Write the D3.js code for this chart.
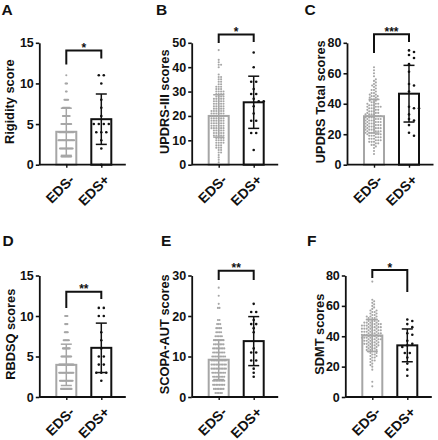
<!DOCTYPE html>
<html><head><meta charset="utf-8">
<script src="https://cdn.jsdelivr.net/npm/d3@7"></script>
<style>
body{margin:0;background:#fff}
svg{display:block}
text{font-family:Arial,"Liberation Sans",sans-serif;font-weight:bold}
</style>
</head><body>
<svg id="chart" width="438" height="440"></svg>
<script>
// ---------------- DATA ----------------
const groups = ["EDS-", "EDS+"];
const panelLetters = ["A", "B", "C", "D", "E", "F"];
const yTitles = ["Rigidity score", "UPDRS-III scores", "UPDRS Total scores", "RBDSQ scores", "SCOPA-AUT scores", "SDMT scores"];
const yMaxima = [15, 50, 80, 15, 30, 80];
const yTickSteps = [5, 10, 20, 5, 10, 20];
const sigMarks = ["*", "*", "***", "**", "**", "*"];
const meansNeg = [4.05, 20.0, 31.8, 3.97, 9.2, 40.5];
const meansPos = [5.6, 25.6, 46.6, 6.07, 13.8, 34.0];
const sdNeg = [2.9, 8.7, 11.0, 2.55, 4.9, 10.5];
const sdPos = [3.1, 10.7, 18.6, 3.05, 6.05, 10.8];

// EDS- : number of patients per integer score, starting at the given score
const rigidityNegStart = 0;
const rigidityNegCounts = [2, 14, 18, 22, 20, 14, 10, 10, 6, 2, 3, 1];
const updrs3NegStart = 1;
const updrs3NegCounts = [1,1,1,1,2,2,3,3,4,4,4,5,5,5,6,6,6,6,6,6,6,6,5,5,5,5,5,4,4,4,3,3,2,2,2,2,1,0,0,1,2,1,1,0,0,0,1];
const updrsTotalNegStart = 7;
const updrsTotalNegCounts = [1,0,1,0,1,1,2,2,3,3,3,3,3,4,4,4,4,4,4,4,4,4,4,4,4,4,4,3,3,3,3,4,3,3,2,2,3,2,3,2,2,1,2,1,1,2,1,1,1,1,0,1,0,1,0,1,0,1];
const rbdsqNegStart = 0;
const rbdsqNegCounts = [4, 15, 18, 20, 20, 14, 10, 8, 5, 4, 4];
const scopaNegStart = 0;
const scopaNegCounts = [2,5,7,8,8,8,9,10,10,10,9,8,8,7,7,5,4,4,3,2,0,0,2,1,0,1,0,1];
const sdmtNegStart = 7;
const sdmtNegCounts = [1,0,0,1,0,0,0,0,0,0,0,1,0,1,1,1,1,2,1,2,2,2,2,3,3,3,3,4,4,4,4,5,5,5,5,5,5,5,5,5,5,5,4,4,3,3,3,2,2,2,2,1,1,1,1,1,1,1,0,0,0,0,0,0,0,0,0,0,0,1];

// EDS+ : individual patient scores
const rigidityPos = [11, 11, 10, 8, 7, 6, 5, 5, 5, 5, 4, 4, 4, 3, 2, 0];
const updrs3Pos = [46, 40, 34, 34, 31, 29, 29, 27, 26, 26, 24, 21, 18, 18, 13, 13, 6];
const updrsTotalPos = [75, 74, 72, 70, 66, 61, 53, 52, 48, 38, 37, 37, 33, 30, 29, 26, 21, 19];
const rbdsqPos = [11, 11, 10, 10, 8, 7, 6, 5, 5, 4, 4, 3, 3, 3, 2];
const scopaPos = [23, 21, 21, 19, 18, 18, 17, 16, 12, 11, 11, 9, 9, 7, 6, 5];
const sdmtPos = [51, 50, 48, 46, 42, 41, 37, 35, 34, 33, 29, 29, 26, 22, 18, 14];

// ---------------- HELPERS ----------------
function expandCounts(start, counts) {
  const out = [];
  counts.forEach((c, i) => { for (let k = 0; k < c; k++) out.push(start + i); });
  return out;
}

const negSets = [
  expandCounts(rigidityNegStart, rigidityNegCounts),
  expandCounts(updrs3NegStart, updrs3NegCounts),
  expandCounts(updrsTotalNegStart, updrsTotalNegCounts),
  expandCounts(rbdsqNegStart, rbdsqNegCounts),
  expandCounts(scopaNegStart, scopaNegCounts),
  expandCounts(sdmtNegStart, sdmtNegCounts)
];
const posSets = [rigidityPos, updrs3Pos, updrsTotalPos, rbdsqPos, scopaPos, sdmtPos];

// layout (pixels / value units for annotations)
const layout = [
  {ax: 39.3,  base: 164.7, top: 42.8,  lx: 1.5,   ly: 14.5, tx: 13.5,  br: [14.05, 12.33, 13.07], negMode: "rows", negStep: 0.75},
  {ax: 191.7, base: 164.7, top: 42.8,  lx: 156,   ly: 14.5, tx: 169.3, br: [53.4, 49.9, 50.3],    negMode: "swarm"},
  {ax: 347,   base: 164.7, top: 42.8,  lx: 304.5, ly: 14.5, tx: 324.7, br: [85.6, 73.3, 80.5],    negMode: "swarm"},
  {ax: 39.3,  base: 397,   top: 275.5, lx: 2.5,   ly: 245.5, tx: 15,    br: [13.0, 11.0, 12.1],    negMode: "rows", negStep: 0.75},
  {ax: 191.7, base: 397,   top: 275.5, lx: 161,   ly: 245.5, tx: 169.3, br: [31.2, 28.9, 28.9],    negMode: "rows", negStep: 1.6},
  {ax: 345.3, base: 397,   top: 275.5, lx: 307,   ly: 245.5, tx: 323.7, br: [83.6, 78.3, 69.1],    negMode: "swarm"}
];

const GREY = "#a6a6a6";
const BLACK = "#111";

function rowLayout(values, y, step, maxW, minD) {
  const rows = d3.rollups(values, v => v.length, d => d).sort((a, b) => b[0] - a[0]);
  const placed = [];
  rows.forEach(([v, n]) => {
    const s = n > 1 ? Math.min(step, maxW / (n - 1)) : 0;
    const yy = y(v);
    const base = d3.range(n).map(i => (i - (n - 1) / 2) * s);
    let shift = 0;
    if (minD > 0) {
      const shifts = [0];
      for (let k = 1; k <= 8; k++) shifts.push(k * step / 2, -k * step / 2);
      for (const sh of shifts) {
        const ok = base.every(b => placed.every(q => Math.hypot(q.x - (b + sh), q.y - yy) >= minD));
        if (ok) { shift = sh; break; }
      }
    }
    base.forEach(b => placed.push({v: v, x: b + shift, y: yy}));
  });
  return placed;
}

function swarm(values, y, minD) {
  const pts = values.slice().sort((a, b) => a - b).map(v => ({v: v, y: y(v), x: 0}));
  const placed = [];
  pts.forEach((p, idx) => {
    const forb = [];
    placed.forEach(q => {
      const dy = Math.abs(q.y - p.y);
      if (dy < minD) {
        const dx = Math.sqrt(minD * minD - dy * dy);
        forb.push([q.x - dx, q.x + dx]);
      }
    });
    const cands = [0];
    forb.forEach(f => cands.push(f[0], f[1]));
    const sgn = idx % 2 === 0 ? 1 : -1;
    cands.sort((a, b) => (Math.abs(a) - Math.abs(b)) || sgn * (a - b));
    for (const c of cands) {
      if (forb.every(f => c <= f[0] + 1e-6 || c >= f[1] - 1e-6)) { p.x = c; break; }
    }
    placed.push(p);
  });
  return placed;
}

// ---------------- DRAW ----------------
const svg = d3.select("#chart");

layout.forEach((L, i) => {
  const g = svg.append("g");
  const y = d3.scaleLinear().domain([0, yMaxima[i]]).range([L.base, L.top]);
  const x = d3.scalePoint().domain(groups).range([L.ax + 27, L.ax + 62]);
  const barW = 20;

  // panel letter
  g.append("text").attr("x", L.lx).attr("y", L.ly).attr("font-size", 15.5).attr("fill", BLACK).text(panelLetters[i]);

  // y title
  g.append("text")
    .attr("transform", `translate(${L.tx},${(L.base + L.top) / 2 - 2}) rotate(-90)`)
    .attr("text-anchor", "middle").attr("font-size", 12.8).attr("fill", BLACK)
    .text(yTitles[i]);

  // bars
  const means = [meansNeg[i], meansPos[i]];
  const sds = [sdNeg[i], sdPos[i]];
  const cols = [GREY, BLACK];
  groups.forEach((grp, k) => {
    g.append("rect")
      .attr("x", x(grp) - barW / 2).attr("width", barW)
      .attr("y", y(means[k])).attr("height", L.base - y(means[k]))
      .attr("fill", "#fff").attr("stroke", cols[k]).attr("stroke-width", 2);
  });

  // dots EDS-
  const negPts = L.negMode === "swarm" ? swarm(negSets[i], y, 2.4) : rowLayout(negSets[i], y, L.negStep, 17, 0);
  g.append("g").selectAll("circle").data(negPts).join("circle")
    .attr("cx", d => x(groups[0]) + d.x).attr("cy", d => d.y).attr("r", 1.05).attr("fill", GREY);

  // dots EDS+
  const posPts = rowLayout(posSets[i], y, 5, 20, 4.0);
  g.append("g").selectAll("circle").data(posPts).join("circle")
    .attr("cx", d => x(groups[1]) + d.x).attr("cy", d => d.y).attr("r", 1.3).attr("fill", BLACK);

  // error bars
  groups.forEach((grp, k) => {
    const cx = x(grp);
    const lo = Math.max(0, means[k] - sds[k]), hi = means[k] + sds[k];
    const eb = g.append("g").attr("stroke", cols[k]).attr("stroke-width", 1.5).attr("fill", "none");
    eb.append("line").attr("x1", cx).attr("x2", cx).attr("y1", y(lo)).attr("y2", y(hi));
    eb.append("line").attr("x1", cx - 5.5).attr("x2", cx + 5.5).attr("y1", y(hi)).attr("y2", y(hi));
    eb.append("line").attr("x1", cx - 5.5).attr("x2", cx + 5.5).attr("y1", y(lo)).attr("y2", y(lo));
  });

  // y axis
  const yAxis = d3.axisLeft(y)
    .tickValues(d3.range(0, yMaxima[i] + 0.001, yTickSteps[i]))
    .tickSize(3.5).tickSizeOuter(0).tickPadding(2);
  const ya = g.append("g").attr("transform", `translate(${L.ax},0)`).call(yAxis);
  ya.select(".domain").attr("stroke", BLACK).attr("stroke-width", 1.8);
  ya.selectAll(".tick line").attr("stroke", BLACK).attr("stroke-width", 1.6);
  ya.selectAll(".tick text").attr("font-size", 12.5).attr("fill", BLACK)
    .attr("font-family", "Arial, 'Liberation Sans', sans-serif").attr("font-weight", "bold");

  // x axis
  g.append("line").attr("x1", L.ax).attr("x2", L.ax + 86.5).attr("y1", L.base).attr("y2", L.base)
    .attr("stroke", BLACK).attr("stroke-width", 1.8);
  const xa = g.append("g").attr("transform", `translate(0,${L.base})`)
    .call(d3.axisBottom(x).tickSize(3).tickFormat(""));
  xa.select(".domain").remove();
  xa.selectAll(".tick line").attr("stroke", BLACK).attr("stroke-width", 1.4);
  groups.forEach(grp => {
    g.append("text")
      .attr("transform", `translate(${x(grp) + 9},${L.base + 16}) rotate(-45)`)
      .attr("text-anchor", "end").attr("font-size", 14).attr("fill", BLACK)
      .text(grp);
  });

  // significance bracket
  const [bt, bl, brr] = L.br;
  const x1 = x(groups[0]), x2 = x(groups[1]);
  g.append("path")
    .attr("d", `M${x1},${y(bl)}V${y(bt)}H${x2}V${y(brr)}`)
    .attr("fill", "none").attr("stroke", BLACK).attr("stroke-width", 2);
  g.append("text").attr("x", (x1 + x2) / 2).attr("y", y(bt) + 1.5)
    .attr("text-anchor", "middle").attr("font-size", 12).attr("fill", BLACK)
    .text(sigMarks[i]);
});
</script>
</body></html>
